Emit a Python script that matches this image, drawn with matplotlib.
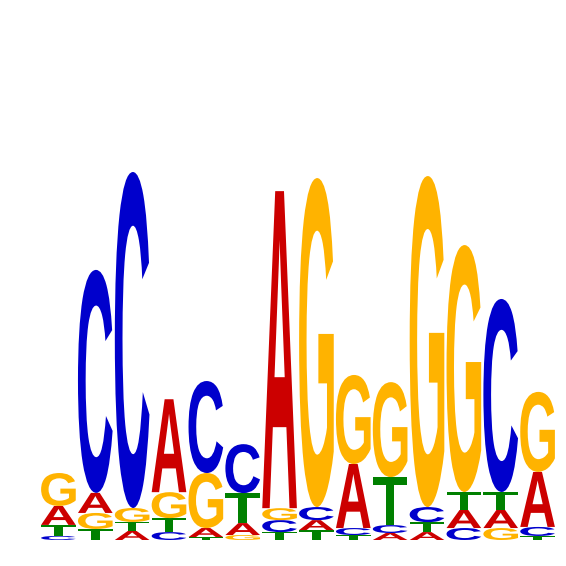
import matplotlib
matplotlib.use("Agg")
import matplotlib.pyplot as plt
from matplotlib.textpath import TextPath
from matplotlib.patches import PathPatch
from matplotlib.font_manager import FontProperties
from matplotlib.transforms import Affine2D

# letters of each position, stacked bottom -> top
stacks = ["CTAG", "TGAC", "ATGC", "CTGA", "TAGC", "GATC", "TCGA",
          "TACG", "TCAG", "ACTG", "ATCG", "CATG", "GATC", "TCAG"]
# heights in bits, same order as the letters above
heights = [
    [0.022, 0.060, 0.103, 0.179],
    [0.060, 0.087, 0.109, 1.212],
    [0.049, 0.049, 0.076, 1.826],
    [0.043, 0.076, 0.141, 0.505],
    [0.016, 0.049, 0.299, 0.500],
    [0.027, 0.065, 0.163, 0.266],
    [0.043, 0.065, 0.065, 1.723],
    [0.054, 0.054, 0.071, 1.788],
    [0.027, 0.038, 0.348, 0.484],
    [0.038, 0.043, 0.261, 0.516],
    [0.043, 0.054, 0.082, 1.799],
    [0.065, 0.098, 0.098, 1.342],
    [0.065, 0.098, 0.098, 1.049],
    [0.022, 0.049, 0.299, 0.435],
]
colors = {"A": "#CC0000", "C": "#0000CC", "G": "#FFB300", "T": "#008000"}

font = FontProperties(family="Liberation Sans", weight="bold")


def draw_letter(ax, letter, x, y, w, h):
    tp = TextPath((0, 0), letter, size=1, prop=font)
    bb = tp.get_extents()
    tr = (Affine2D().translate(-bb.x0, -bb.y0)
          .scale(w / bb.width, h / bb.height)
          .translate(x, y))
    path = tr.transform_path(tp)
    ax.add_patch(PathPatch(path, facecolor=colors[letter], edgecolor="none"))


fig = plt.figure(figsize=(5.66, 5.66), dpi=100)
ax = fig.add_axes([40 / 566, 26 / 566, 516 / 566, 368 / 566])
for i in range(len(stacks)):
    y = 0.0
    for letter, h in zip(stacks[i], heights[i]):
        draw_letter(ax, letter, i + 0.03, y, 0.94, h)
        y += h

ax.set_xlim(0, len(stacks))
ax.set_ylim(0, 2)
ax.axis("off")
fig.savefig("out.png", dpi=100)
